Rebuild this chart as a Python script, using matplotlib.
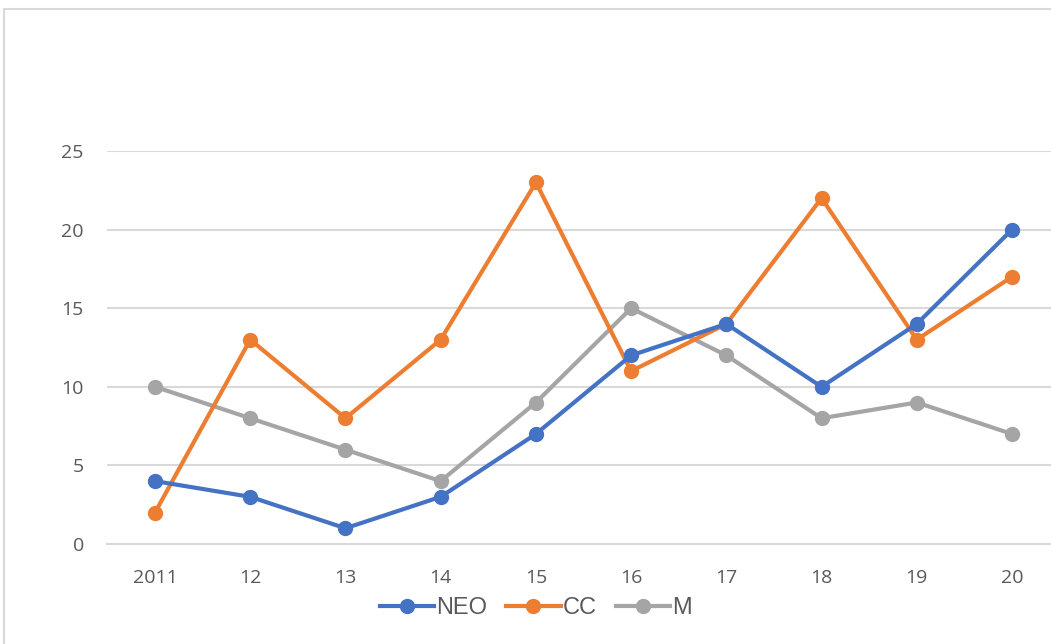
import matplotlib.pyplot as plt
from matplotlib.lines import Line2D
from matplotlib.patches import Rectangle

years = ['2011', '12', '13', '14', '15', '16', '17', '18', '19', '20']
neo = [4, 3, 1, 3, 7, 12, 14, 10, 14, 20]
cc = [2, 13, 8, 13, 23, 11, 14, 22, 13, 17]
m = [10, 8, 6, 4, 9, 15, 12, 8, 9, 7]

series_names = ['NEO', 'CC', 'M']
colors = ['#4472C4', '#ED7D31', '#A5A5A5']

fig = plt.figure(figsize=(10.51, 6.44), dpi=100)
ax = fig.add_axes([0.1022, 0.1553, 0.906, 0.6102])

x = list(range(len(years)))
for vals, name, c in zip([neo, cc, m][::-1], series_names[::-1], colors[::-1]):
    ax.plot(x, vals, color=c, lw=3, marker='o', markersize=10,
            solid_capstyle='round', label=name, clip_on=False)

ax.set_xlim(-0.5, len(years) - 0.5)
ax.set_ylim(0, 25)
ax.set_yticks(range(0, 26, 5))
ax.set_xticks(x)
ax.set_xticklabels(years)
ax.grid(axis='y', color='#D9D9D9', lw=1.5)
ax.set_axisbelow(True)
for s in ['top', 'right', 'left']:
    ax.spines[s].set_visible(False)
ax.spines['bottom'].set_color('#D9D9D9')
ax.spines['bottom'].set_linewidth(1.5)
ax.tick_params(length=0, labelsize=14, labelcolor='#595959')
ax.tick_params(axis='x', pad=18)
ax.tick_params(axis='y', pad=17)
for lbl in ax.get_xticklabels() + ax.get_yticklabels():
    lbl.set_family(['Open Sans', 'DejaVu Sans'])

# legend along the bottom, in series order
handles = [Line2D([0], [0], color=c, lw=3, marker='o', markersize=10)
           for c in colors]
leg = fig.legend(handles, series_names, loc='center', bbox_to_anchor=(0.51, 0.056),
                 ncol=3, frameon=False, handlelength=2.3, handletextpad=0.1,
                 columnspacing=0.8,
                 prop={'family': ['Liberation Sans Narrow', 'Liberation Sans'], 'size': 17})
for t in leg.get_texts():
    t.set_color('#595959')

# chart frame
fig.patches.append(Rectangle((4 / 1051, -0.1), 1.2, (644 - 9.5) / 644 + 0.1,
                             transform=fig.transFigure, fill=False,
                             edgecolor='#D9D9D9', lw=1.5))

fig.savefig('out.png', dpi=100)
